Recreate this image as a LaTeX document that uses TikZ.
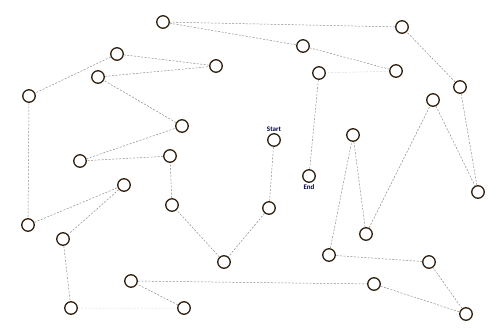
\documentclass[tikz,border=0pt]{standalone}
\usepackage{fontspec}
\setmainfont{Carlito}
\usetikzlibrary{positioning}
\begin{document}
\begin{tikzpicture}[x=1pt,y=-1pt,
  city/.style={circle,draw=black!75!brown,line width=1.3pt,minimum size=12.5pt,inner sep=0pt},
  route/.style={draw=black!45,dashed,dash pattern=on 2pt off 1.5pt,line width=0.5pt},
  faint/.style={draw=black!15,dashed,dash pattern=on 2pt off 1.5pt,line width=0.5pt},
  lbl/.style={font=\bfseries\fontsize{7}{8}\selectfont,text=blue!30!black,inner sep=0.5pt}]
\useasboundingbox (0,0) rectangle (503,330);
\node[city] (A) at (163,22) {};
\node[city] (B) at (117,54) {};
\node[city] (C) at (216,66) {};
\node[city] (D) at (98,77) {};
\node[city] (E) at (29,96) {};
\node[city] (F) at (182,126) {};
\node[city] (G) at (80,161) {};
\node[city] (H) at (170,156) {};
\node[city] (I) at (402,27) {};
\node[city] (J) at (303,46) {};
\node[city] (K) at (319,73) {};
\node[city] (L) at (396,71) {};
\node[city] (M) at (460,87) {};
\node[city] (N) at (433,100) {};
\node[city] (St) at (274,140) {};
\node[city] (O) at (353,135) {};
\node[city] (P) at (124,185) {};
\node[city] (Q) at (28,225) {};
\node[city] (R) at (63,239) {};
\node[city] (S) at (172,205) {};
\node[city] (T) at (224,262) {};
\node[city] (U) at (131,281) {};
\node[city] (V) at (71,308) {};
\node[city] (W) at (184,308) {};
\node[city] (En) at (309,176) {};
\node[city] (X) at (269,208) {};
\node[city] (Y) at (478,192) {};
\node[city] (Z) at (366,234) {};
\node[city] (a) at (329,255) {};
\node[city] (b) at (429,262) {};
\node[city] (c) at (374,284) {};
\node[city] (d) at (466,314) {};
\node[lbl,above=0.5pt of St] (stl) {Start};
\node[lbl,below=0.5pt of En] (enl) {End};
\path[route] (St)--(X) (X)--(T) (T)--(S) (S)--(H) (H)--(G) (G)--(F) (F)--(D) (D)--(C)
  (C)--(B) (B)--(E) (E)--(Q) (Q)--(P) (P)--(R) (R)--(V)
  (W)--(U) (U)--(c) (c)--(d) (d)--(b) (b)--(a) (a)--(O) (O)--(Z) (Z)--(N) (N)--(Y)
  (Y)--(M) (M)--(I) (I)--(A) (A)--(J) (J)--(L) (K)--(En);
\path[faint] (V)--(W) (L)--(K);
\end{tikzpicture}
\end{document}
